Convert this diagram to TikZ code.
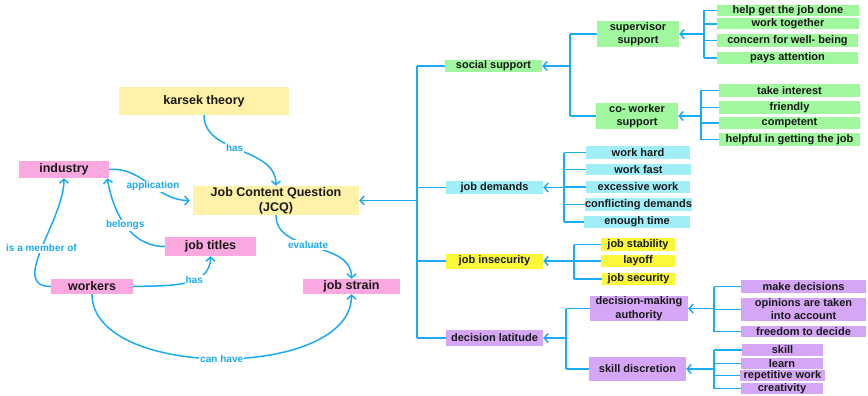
\documentclass[tikz,border=0pt]{standalone}
\usepackage{fontspec}
\setmainfont{Liberation Sans}
\usetikzlibrary{arrows.meta}

\definecolor{lineblue}{HTML}{1AABF5}
\definecolor{paleyellow}{HTML}{FFF1A8}
\definecolor{pinkfill}{HTML}{FCA8E0}
\definecolor{greenfill}{HTML}{A0F79E}
\definecolor{cyanfill}{HTML}{A0EEF8}
\definecolor{yellowfill}{HTML}{FBF83A}
\definecolor{purplefill}{HTML}{D4A6F5}

\tikzset{
  box/.style={inner sep=0pt, align=center, text=black!90,
    font=\fontsize{11}{13.5}\selectfont\bfseries},
  bigbox/.style={box, font=\fontsize{12.5}{15}\selectfont\bfseries},
  theory/.style={bigbox, fill=paleyellow},
  pinkbox/.style={bigbox, fill=pinkfill},
  greenbox/.style={box, fill=greenfill},
  cyanbox/.style={box, fill=cyanfill},
  yellowbox/.style={box, fill=yellowfill},
  purplebox/.style={box, fill=purplefill},
  link/.style={draw=lineblue, line width=1.5pt},
  arr/.style={link, -{Straight Barb[length=4pt,width=9pt]}},
  lbl/.style={fill=white, text=lineblue, inner sep=1pt,
    font=\fontsize{10}{11}\selectfont\bfseries},
}

\begin{document}
\begin{tikzpicture}[x=1pt,y=-1pt]
\useasboundingbox (0,0) rectangle (868,396);

% left part
\node[theory, minimum width=170pt, minimum height=28pt] (karsek) at (204,101) {karsek theory};
\node[theory, minimum width=166pt, minimum height=29pt] (jcq) at (276,200.5) {Job Content Question\\(JCQ)};
\node[pinkbox, minimum width=90pt, minimum height=17pt] (industry) at (64,169.5) {industry};
\node[pinkbox, minimum width=91pt, minimum height=19pt] (titles) at (210.5,246.5) {job titles};
\node[pinkbox, minimum width=82pt, minimum height=15pt] (workers) at (92,286.5) {workers};
\node[pinkbox, minimum width=97pt, minimum height=15pt] (strain) at (351.5,286.5) {job strain};

\draw[arr] (karsek.south) to[out=-90,in=90] node[lbl, pos=0.45] {has} (jcq.north);
\draw[arr] (industry.east) to[out=5,in=180] node[lbl, pos=0.55] {application} ([xshift=-3pt]jcq.west);
\draw[arr] (titles.west) to[out=180,in=-80] node[lbl] {belongs} ([xshift=-2pt]industry.south east);
\draw[arr] (workers.west) to[out=180,in=-90] node[lbl] {is a member of} (industry.south);
\draw[arr] (workers.east) to[out=2,in=-90] node[lbl, pos=0.62] {has} (titles.south);
\draw[arr] (jcq.south) to[out=-90,in=90] node[lbl, pos=0.45] {evaluate} (strain.north);
\draw[arr] (workers.south) to[out=-90,in=-90,looseness=0.85] node[lbl] {can have} (strain.south);

% right part: dimensions
\node[greenbox, minimum width=97pt, minimum height=12pt] (social) at (493.5,66) {social support};
\node[cyanbox, minimum width=97pt, minimum height=13pt] (demands) at (494.5,187.5) {job demands};
\node[yellowbox, minimum width=97pt, minimum height=15pt] (insecurity) at (494.5,261) {job insecurity};
\node[purplebox, minimum width=97pt, minimum height=16pt] (latitude) at (494.5,338) {decision latitude};

\coordinate (mainbus) at (417,0);
\foreach \d in {social,demands,insecurity,latitude}
  \draw[link] (\d.west) -- (\d.west -| mainbus);
\draw[link] (social.west -| mainbus) -- (latitude.west -| mainbus);
\draw[arr] (jcq.east -| mainbus) -- (jcq.east);

% social support
\node[greenbox, minimum width=82pt, minimum height=26pt] (supervisor) at (638,34) {supervisor\\support};
\node[greenbox, minimum width=82pt, minimum height=25pt] (coworker) at (637,116) {co- worker\\support};
\coordinate (socialbus) at (570,0);
\foreach \d in {supervisor,coworker}
  \draw[link] (\d.west) -- (\d.west -| socialbus);
\draw[link] (supervisor.west -| socialbus) -- (coworker.west -| socialbus);
\draw[arr] (social.east -| socialbus) -- (social.east);

\node[greenbox, minimum width=142pt, minimum height=11pt] (helpget) at (788,10.5) {help get the job done};
\node[greenbox, minimum width=142pt, minimum height=11pt] (together) at (788,24) {work together};
\node[greenbox, minimum width=141pt, minimum height=13pt] (concern) at (787.5,40.5) {concern for well- being};
\node[greenbox, minimum width=141pt, minimum height=12pt] (attention) at (787.5,58) {pays attention};
\coordinate (superbus) at (704,0);
\foreach \d in {helpget,together,concern,attention}
  \draw[link] (\d.west) -- (\d.west -| superbus);
\draw[link] (helpget.west -| superbus) -- (attention.west -| superbus);
\draw[arr] (supervisor.east -| superbus) -- (supervisor.east);

\node[greenbox, minimum width=141pt, minimum height=13pt] (interest) at (789.5,90.5) {take interest};
\node[greenbox, minimum width=141pt, minimum height=13pt] (friendly) at (789.5,107.5) {friendly};
\node[greenbox, minimum width=141pt, minimum height=12pt] (competent) at (789.5,123) {competent};
\node[greenbox, minimum width=141pt, minimum height=13pt] (helpful) at (789.5,139.5) {helpful in getting the job};
\coordinate (cowbus) at (701,0);
\foreach \d in {interest,friendly,competent,helpful}
  \draw[link] (\d.west) -- (\d.west -| cowbus);
\draw[link] (interest.west -| cowbus) -- (helpful.west -| cowbus);
\draw[arr] (coworker.east -| cowbus) -- (coworker.east);

% job demands
\node[cyanbox, minimum width=104pt, minimum height=13pt] (hard) at (638,152.5) {work hard};
\node[cyanbox, minimum width=105pt, minimum height=11pt] (fast) at (638.5,169.5) {work fast};
\node[cyanbox, minimum width=104pt, minimum height=12pt] (excessive) at (638,187) {excessive work};
\node[cyanbox, minimum width=107pt, minimum height=13pt] (conflicting) at (638.5,204.5) {conflicting demands};
\node[cyanbox, minimum width=106pt, minimum height=12pt] (enough) at (637,222) {enough time};
\coordinate (demandbus) at (564,0);
\foreach \d in {hard,fast,excessive,conflicting,enough}
  \draw[link] (\d.west) -- (\d.west -| demandbus);
\draw[link] (hard.west -| demandbus) -- (enough.west -| demandbus);
\draw[arr] (demands.east -| demandbus) -- (demands.east);

% job insecurity
\node[yellowbox, minimum width=74pt, minimum height=13pt] (stability) at (638,244.5) {job stability};
\node[yellowbox, minimum width=74pt, minimum height=12pt] (layoff) at (638,261) {layoff};
\node[yellowbox, minimum width=73pt, minimum height=12pt] (security) at (638.5,279) {job security};
\coordinate (insecbus) at (574,0);
\foreach \d in {stability,layoff,security}
  \draw[link] (\d.west) -- (\d.west -| insecbus);
\draw[link] (stability.west -| insecbus) -- (security.west -| insecbus);
\draw[arr] (insecurity.east -| insecbus) -- (insecurity.east);

% decision latitude
\node[purplebox, minimum width=98pt, minimum height=25pt] (authority) at (639,308.5) {decision-making\\authority};
\node[purplebox, minimum width=97pt, minimum height=24pt] (discretion) at (637.5,369) {skill discretion};
\coordinate (latbus) at (566,0);
\foreach \d in {authority,discretion}
  \draw[link] (\d.west) -- (\d.west -| latbus);
\draw[link] (authority.west -| latbus) -- (discretion.west -| latbus);
\draw[arr] (latitude.east -| latbus) -- (latitude.east);

\node[purplebox, minimum width=125pt, minimum height=13pt] (makedec) at (803.5,286.5) {make decisions};
\node[purplebox, minimum width=125pt, minimum height=23pt, font=\fontsize{11}{13}\selectfont\bfseries] (opinions) at (803.5,309.5) {opinions are taken\\into account};
\node[purplebox, minimum width=125pt, minimum height=11pt] (freedom) at (803.5,331.5) {freedom to decide};
\coordinate (authbus) at (714,0);
\foreach \d in {makedec,opinions,freedom}
  \draw[link] (\d.west) -- (\d.west -| authbus);
\draw[link] (makedec.west -| authbus) -- (freedom.west -| authbus);
\draw[arr] (authority.east -| authbus) -- (authority.east);

\node[purplebox, minimum width=81pt, minimum height=12pt] (skill) at (782.5,350) {skill};
\node[purplebox, minimum width=82pt, minimum height=11pt] (learn) at (782,363.5) {learn};
\node[purplebox, minimum width=85pt, minimum height=10pt] (repetitive) at (782.5,375.5) {repetitive work};
\node[purplebox, minimum width=82pt, minimum height=11pt] (creativity) at (782,388.5) {creativity};
\coordinate (skillbus) at (714,0);
\foreach \d in {skill,learn,repetitive,creativity}
  \draw[link] (\d.west) -- (\d.west -| skillbus);
\draw[link] (skill.west -| skillbus) -- (creativity.west -| skillbus);
\draw[arr] (discretion.east -| skillbus) -- (discretion.east);
\end{tikzpicture}
\end{document}
